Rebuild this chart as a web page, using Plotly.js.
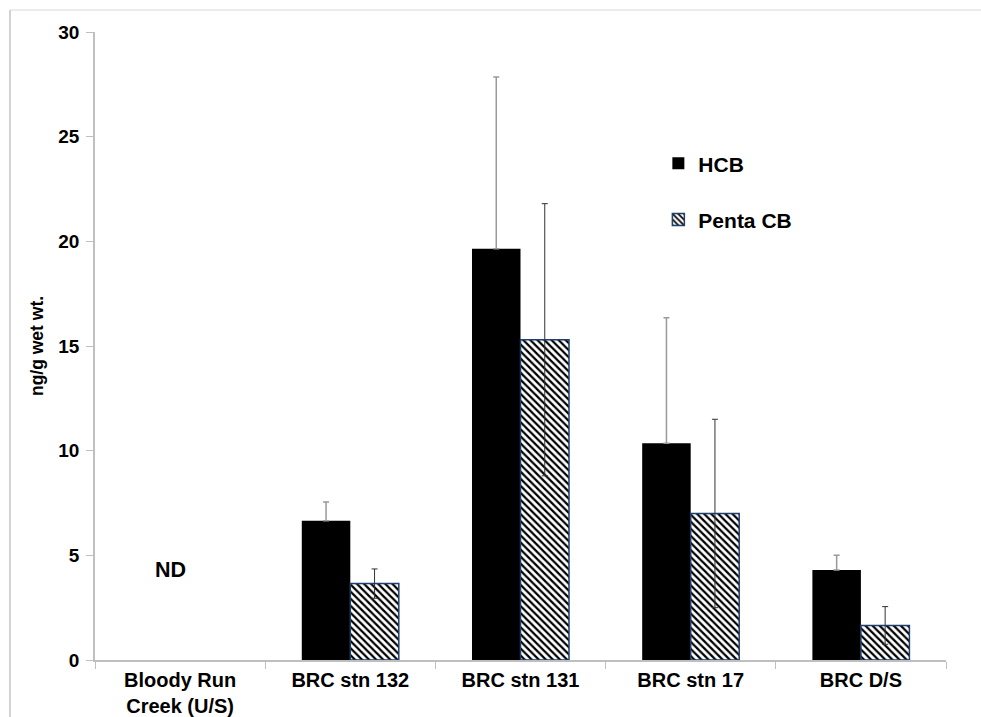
<!DOCTYPE html>
<html><head><meta charset="utf-8">
<script src="https://cdn.plot.ly/plotly-3.0.1.min.js"></script>
<style>body{margin:0;background:#fff}#c{width:981px;height:717px}</style>
</head><body><div id="c"></div>
<script>
const categories = ["Bloody Run<br>Creek (U/S)", "BRC stn 132", "BRC stn 131", "BRC stn 17", "BRC D/S"];
const hcb = [null, 6.65, 19.65, 10.35, 4.3];
const hcbErr = [null, 0.9, 8.2, 6.0, 0.7];
const hcbErrMinus = [null, 0, 0, 0, 0];
const penta = [null, 3.65, 15.3, 7.0, 1.65];
const pentaErr = [null, 0.7, 6.5, 4.5, 0.9];
const yTicks = [0, 5, 10, 15, 20, 25, 30];

const F = "Liberation Sans, Arial, sans-serif";
const traces = [
  {type:'bar', name:'HCB', x:categories, y:hcb, legendgroup:'a',
   marker:{color:'#000000', line:{color:'#000000', width:0}},
   error_y:{type:'data', symmetric:false, array:hcbErr, arrayminus:hcbErrMinus, visible:true, color:'#999999', thickness:1.5, width:3}},
  {type:'bar', name:'Penta CB', x:categories, y:penta, legendgroup:'b',
   marker:{color:'#ffffff', line:{color:'#1f3f6f', width:1.5},
     pattern:{shape:'\\', fgcolor:'#000000', bgcolor:'#ffffff', size:5, solidity:0.45}},
   error_y:{type:'data', array:pentaErr, visible:true, color:'#333333', thickness:1, width:3}}
];
const layout = {
  width:981, height:717, paper_bgcolor:'#fff', plot_bgcolor:'#fff',
  margin:{l:95, r:35, t:32, b:57},
  barmode:'group', bargap:0.43, bargroupgap:0,
  font:{family:F, color:'#000'},
  showlegend:true,
  legend:{x:0.662, y:0.823, xanchor:'left', yanchor:'top', tracegroupgap:26, traceorder:'grouped',
          font:{size:21, family:F, weight:'bold'}, itemwidth:30, bgcolor:'rgba(0,0,0,0)'},
  xaxis:{type:'category', showline:true, linecolor:'#bfbfbf', linewidth:1.5, ticks:'outside', tickson:'boundaries',
         ticklen:7, tickcolor:'#bfbfbf', ticklabelstandoff:1, tickfont:{size:20, family:F, weight:'bold'}, showgrid:false, zeroline:false},
  yaxis:{range:[0,30], tickvals:yTicks, showline:true, linecolor:'#bfbfbf', linewidth:1.5, ticks:'outside',
         ticklen:7, tickcolor:'#bfbfbf', ticklabelstandoff:3, tickfont:{size:19, family:F, weight:'bold'}, showgrid:false, zeroline:false,
         title:{text:'ng/g wet wt.', font:{size:17.5, family:F, weight:'bold'}, standoff:10}},
  annotations:[{x:0, y:4.3, xref:'x', yref:'y', text:'<b>ND</b>', showarrow:false, xshift:-10,
                font:{size:21.5, family:F}}],
  shapes:[
    {type:'line', xref:'paper', yref:'paper', x0:-0.0999, x1:-0.0999, y0:1.035, y1:-0.1, line:{color:'#a6a6a6', width:1}},
    {type:'line', xref:'paper', yref:'paper', x0:-0.0999, x1:1.05, y0:1.035, y1:1.035, line:{color:'#d9d9d9', width:1}}
  ]
};
Plotly.newPlot('c', traces, layout, {displayModeBar:false});
</script></body></html>
